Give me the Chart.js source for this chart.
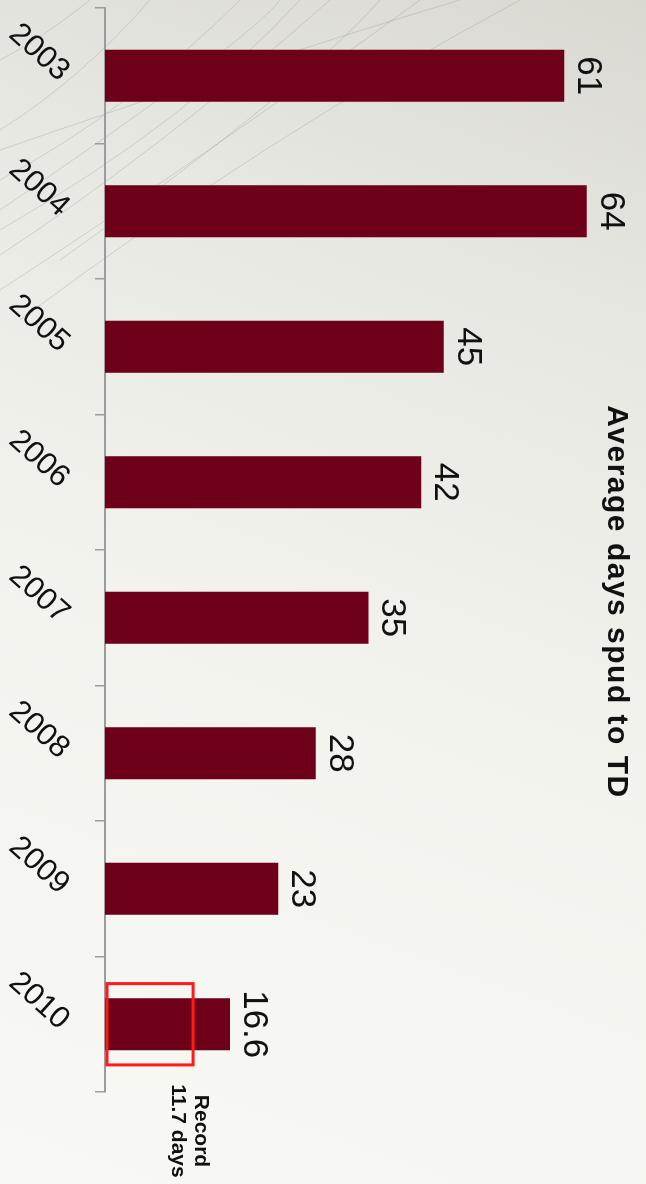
<!DOCTYPE html>
<html>
<head>
<meta charset="utf-8">
<script src="https://cdn.jsdelivr.net/npm/chart.js@4/dist/chart.umd.min.js"></script>
<style>
  html, body { margin: 0; padding: 0; width: 646px; height: 1184px; overflow: hidden; }
  body { background: linear-gradient(200deg, #d9d9d2 0%, #e8e8e2 25%, #f3f3ee 55%, #f8f8f4 100%); }
  #bg { position: absolute; left: 0; top: 0; }
  /* the chart is laid out as a column chart and turned a quarter turn clockwise */
  #wrap { position: absolute; left: 0; top: 0; width: 1184px; height: 646px;
          transform-origin: 0 0; transform: translate(646px, 0) rotate(90deg); }
</style>
</head>
<body>
<canvas id="bg" width="646" height="1184"></canvas>
<div id="wrap"><canvas id="chart" width="1184" height="646"></canvas></div>
<script>
// ---- data ----
const years = ['2003', '2004', '2005', '2006', '2007', '2008', '2009', '2010'];
const avgDaysSpudToTD = [61, 64, 45, 42, 35, 28, 23, 16.6];
const recordYear = '2010';
const recordDays = 11.7;
const recordLines = ['Record', '11.7 days'];
const titleText = 'Average days spud to TD';

// ---- faint decorative strokes on the page background ----
(function drawBackdrop() {
  const g = document.getElementById('bg').getContext('2d');
  g.strokeStyle = 'rgba(140,140,135,0.28)';
  g.lineWidth = 1;
  const curves = [
    [0, 255, 160, 150, 330, 0],
    [0, 230, 190, 120, 300, 0],
    [0, 290, 200, 160, 420, 0],
    [0, 130, 80, 80, 150, 0],
    [0, 180, 130, 110, 240, 0],
    [20, 320, 260, 140, 520, 0],
    [0, 60, 40, 40, 90, 0],
    [60, 260, 300, 90, 380, 0],
    [0, 210, 250, 40, 280, 0],
    [0, 150, 260, 60, 460, 0]
  ];
  curves.forEach(c => {
    g.beginPath();
    g.moveTo(c[0], c[1]);
    g.quadraticCurveTo(c[2], c[3], c[4], c[5]);
    g.stroke();
  });
})();

const FONT = "'Liberation Sans', Arial, sans-serif";

// value printed beyond the end of each bar
const valueLabels = {
  id: 'valueLabels',
  afterDatasetsDraw(chart) {
    const ctx = chart.ctx;
    const meta = chart.getDatasetMeta(0);
    ctx.save();
    ctx.font = '35px ' + FONT;
    ctx.fillStyle = '#111';
    ctx.textAlign = 'center';
    ctx.textBaseline = 'alphabetic';
    meta.data.forEach((bar, i) => {
      ctx.fillText(String(avgDaysSpudToTD[i]), bar.x, bar.y - 14);
    });
    ctx.restore();
  }
};

// red outline marking the record value, with its caption
const recordMarker = {
  id: 'recordMarker',
  afterDatasetsDraw(chart) {
    const ctx = chart.ctx;
    const xs = chart.scales.x, ys = chart.scales.y;
    const idx = years.indexOf(recordYear);
    const cx = xs.getPixelForValue(idx);
    const band = xs.getPixelForValue(1) - xs.getPixelForValue(0);
    const half = band * 0.3;
    const y0 = ys.getPixelForValue(0);
    const y1 = ys.getPixelForValue(recordDays);
    ctx.save();
    ctx.strokeStyle = '#ff1a1a';
    ctx.lineWidth = 3;
    ctx.strokeRect(cx - half, y1, half * 2, y0 - y1 - 2);
    ctx.fillStyle = '#111';
    ctx.font = 'bold 21px ' + FONT;
    ctx.textAlign = 'center';
    ctx.textBaseline = 'alphabetic';
    const tx = chart.chartArea.right + 39;
    ctx.fillText(recordLines[0], tx, y1 - 2);
    ctx.fillText(recordLines[1], tx, y1 + 21);
    ctx.restore();
  }
};

// heading printed over the plot
const heading = {
  id: 'heading',
  afterDraw(chart) {
    const ctx = chart.ctx;
    ctx.save();
    ctx.font = 'bold 30px ' + FONT;
    if ('letterSpacing' in ctx) ctx.letterSpacing = '1.5px';
    ctx.fillStyle = '#111';
    ctx.textAlign = 'center';
    ctx.textBaseline = 'alphabetic';
    ctx.fillText(titleText, chart.width / 2 + 10, 38);
    ctx.restore();
  }
};

new Chart(document.getElementById('chart'), {
  type: 'bar',
  data: {
    labels: years,
    datasets: [{
      data: avgDaysSpudToTD,
      backgroundColor: '#6f001a',
      borderWidth: 0,
      barPercentage: 0.384,
      categoryPercentage: 1
    }]
  },
  options: {
    responsive: false,
    animation: false,
    devicePixelRatio: 1,
    layout: { padding: { left: 8, right: 92, top: 14, bottom: 0 } },
    plugins: {
      legend: { display: false },
      tooltip: { enabled: false },
      title: { display: false }
    },
    scales: {
      x: {
        offset: true,
        grid: {
          display: true, offset: true, drawOnChartArea: false, drawTicks: true,
          tickLength: 10, color: '#9c9c9c', lineWidth: 1.5
        },
        border: { display: true, color: '#9c9c9c', width: 2 },
        ticks: {
          autoSkip: false, minRotation: 48, maxRotation: 48, padding: 18,
          color: '#111', font: { family: FONT, size: 31 }
        },
        afterFit(s) { s.height = 105; s.paddingLeft = 0; s.paddingRight = 0; }
      },
      y: { display: false, min: 0, max: 70 }
    }
  },
  plugins: [valueLabels, recordMarker, heading]
});
</script>
</body>
</html>
